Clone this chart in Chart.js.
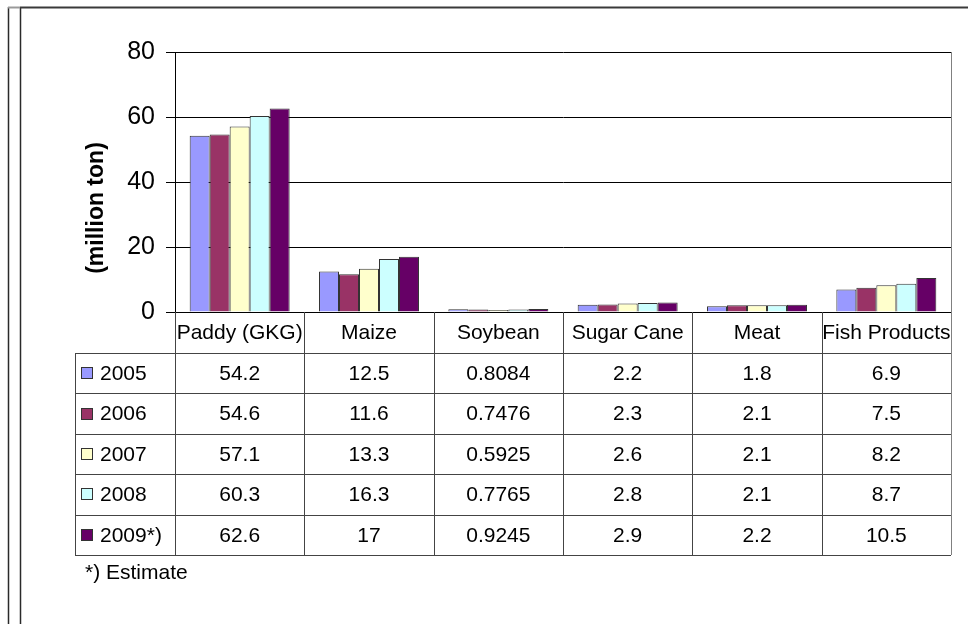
<!DOCTYPE html>
<html>
<head>
<meta charset="utf-8">
<script src="https://cdn.jsdelivr.net/npm/chart.js@4.4.1/dist/chart.umd.min.js"></script>
<style>
    html, body { margin: 0; padding: 0; background: #fff; }
    #okvir { position: relative; width: 968px; height: 624px; }
</style>
</head>
<body>
<div id="okvir"><canvas id="grafikon" width="968" height="624"></canvas></div>
<script>
var kategorije = ["Paddy (GKG)", "Maize", "Soybean", "Sugar Cane", "Meat", "Fish Products"];
var godine = ["2005", "2006", "2007", "2008", "2009*)"];

var v2005 = [54.2, 12.5, 0.8084, 2.2, 1.8, 6.9];
var v2006 = [54.6, 11.6, 0.7476, 2.3, 2.1, 7.5];
var v2007 = [57.1, 13.3, 0.5925, 2.6, 2.1, 8.2];
var v2008 = [60.3, 16.3, 0.7765, 2.8, 2.1, 8.7];
var v2009 = [62.6, 17, 0.9245, 2.9, 2.2, 10.5];

var yOsaTicks = [0, 20, 40, 60, 80];
var boje = ['#9999FF', '#993366', '#FFFFCC', '#CCFFFF', '#660066'];

var serije = [v2005, v2006, v2007, v2008, v2009];
var font = '"Liberation Sans", Arial, sans-serif';

Chart.defaults.font.family = font;
Chart.defaults.color = '#000';

// okvir, naslov osi i tabela s podacima ispod grafa
var tabelaPlugin = {
    id: 'tabela',
    beforeDraw: function (chart) {
        var ctx = chart.ctx;
        ctx.save();
        ctx.fillStyle = '#fff';
        ctx.fillRect(0, 0, chart.width, chart.height);
        ctx.strokeStyle = '#2a2a2a';
        ctx.lineWidth = 1.5;
        ctx.beginPath();
        ctx.moveTo(8.5, 7); ctx.lineTo(8.5, chart.height);
        ctx.moveTo(20.5, 7); ctx.lineTo(20.5, chart.height);
        ctx.stroke();
        ctx.lineWidth = 2;
        ctx.strokeStyle = '#3a3a3a';
        ctx.beginPath();
        ctx.moveTo(20, 7.5); ctx.lineTo(chart.width, 7.5);
        ctx.stroke();
        ctx.strokeStyle = '#9a9a9a';
        ctx.beginPath();
        ctx.moveTo(8, 7.5); ctx.lineTo(20, 7.5);
        ctx.stroke();
        ctx.restore();
    },
    afterDraw: function (chart) {
        var ctx = chart.ctx;
        var a = chart.chartArea;
        var x = chart.scales.x;

        var granice = [a.left];
        for (var i = 0; i < kategorije.length - 1; i++) {
            granice.push((x.getPixelForValue(i) + x.getPixelForValue(i + 1)) / 2);
        }
        granice.push(a.right);

        var vrh = a.bottom;
        var zaglavlje = 41;
        var red = 40.4;
        var lijevo = 75;
        var dno = vrh + zaglavlje + red * godine.length;

        ctx.save();

        // desna ivica grafa
        ctx.strokeStyle = '#808080';
        ctx.lineWidth = 1;
        ctx.beginPath();
        ctx.moveTo(Math.round(a.right) + 0.5, a.top);
        ctx.lineTo(Math.round(a.right) + 0.5, dno);
        ctx.stroke();

        // linije tabele
        ctx.strokeStyle = '#444';
        ctx.beginPath();
        for (var k = 0; k < granice.length - 1; k++) {
            var gx = Math.round(granice[k]) + 0.5;
            ctx.moveTo(gx, vrh);
            ctx.lineTo(gx, dno);
        }
        ctx.moveTo(lijevo + 0.5, vrh + zaglavlje);
        ctx.lineTo(lijevo + 0.5, dno);
        for (var r = 0; r <= godine.length; r++) {
            var gy = Math.round(vrh + zaglavlje + r * red) + 0.5;
            ctx.moveTo(lijevo, gy);
            ctx.lineTo(a.right, gy);
        }
        ctx.stroke();

        ctx.fillStyle = '#000';
        ctx.font = '21px ' + font;
        ctx.textBaseline = 'middle';
        ctx.textAlign = 'center';

        for (var c = 0; c < kategorije.length; c++) {
            var cx = (granice[c] + granice[c + 1]) / 2;
            ctx.fillText(kategorije[c], cx, vrh + zaglavlje / 2 + 1);
            for (var s = 0; s < serije.length; s++) {
                ctx.fillText(String(serije[s][c]), cx, vrh + zaglavlje + red * (s + 0.5) + 1);
            }
        }

        ctx.textAlign = 'left';
        for (var g = 0; g < godine.length; g++) {
            var sy = vrh + zaglavlje + red * (g + 0.5);
            ctx.fillStyle = boje[g];
            ctx.fillRect(81, Math.round(sy - 6), 12, 12);
            ctx.strokeStyle = '#333';
            ctx.strokeRect(81.5, Math.round(sy - 6) + 0.5, 11, 11);
            ctx.fillStyle = '#000';
            ctx.fillText(godine[g], 100, sy + 1);
        }

        ctx.fillText('*) Estimate', 85, 573);

        // naslov y osi
        ctx.save();
        ctx.translate(97, 208);
        ctx.rotate(-Math.PI / 2);
        ctx.textAlign = 'center';
        ctx.font = 'bold 23px ' + font;
        ctx.fillText('(million ton)', 0, 0);
        ctx.restore();

        ctx.restore();
    }
};

var ctxG = document.getElementById('grafikon').getContext('2d');
var grafikon = new Chart(ctxG, {
    type: 'bar',
    data: {
        labels: kategorije,
        datasets: godine.map(function (god, i) {
            return {
                label: god,
                data: serije[i],
                backgroundColor: boje[i],
                borderColor: '#333',
                borderWidth: 1,
                categoryPercentage: 0.773,
                barPercentage: 1.0
            };
        })
    },
    options: {
        responsive: false,
        animation: false,
        layout: {
            padding: { left: 0, top: 52, right: 17, bottom: 312 }
        },
        plugins: {
            legend: { display: false },
            tooltip: { enabled: false }
        },
        scales: {
            x: {
                grid: { display: false },
                border: { display: true, color: '#000' },
                ticks: { display: false },
                afterFit: function (s) { s.height = 0; }
            },
            y: {
                min: yOsaTicks[0],
                max: yOsaTicks[yOsaTicks.length - 1],
                afterBuildTicks: function (s) {
                    s.ticks = yOsaTicks.map(function (v) { return { value: v }; });
                },
                ticks: { padding: 11, font: { size: 25 }, color: '#000' },
                grid: { color: '#000', tickLength: 9 },
                border: { color: '#000' },
                afterFit: function (s) { s.width = 175; }
            }
        }
    },
    plugins: [tabelaPlugin]
});
</script>
</body>
</html>
